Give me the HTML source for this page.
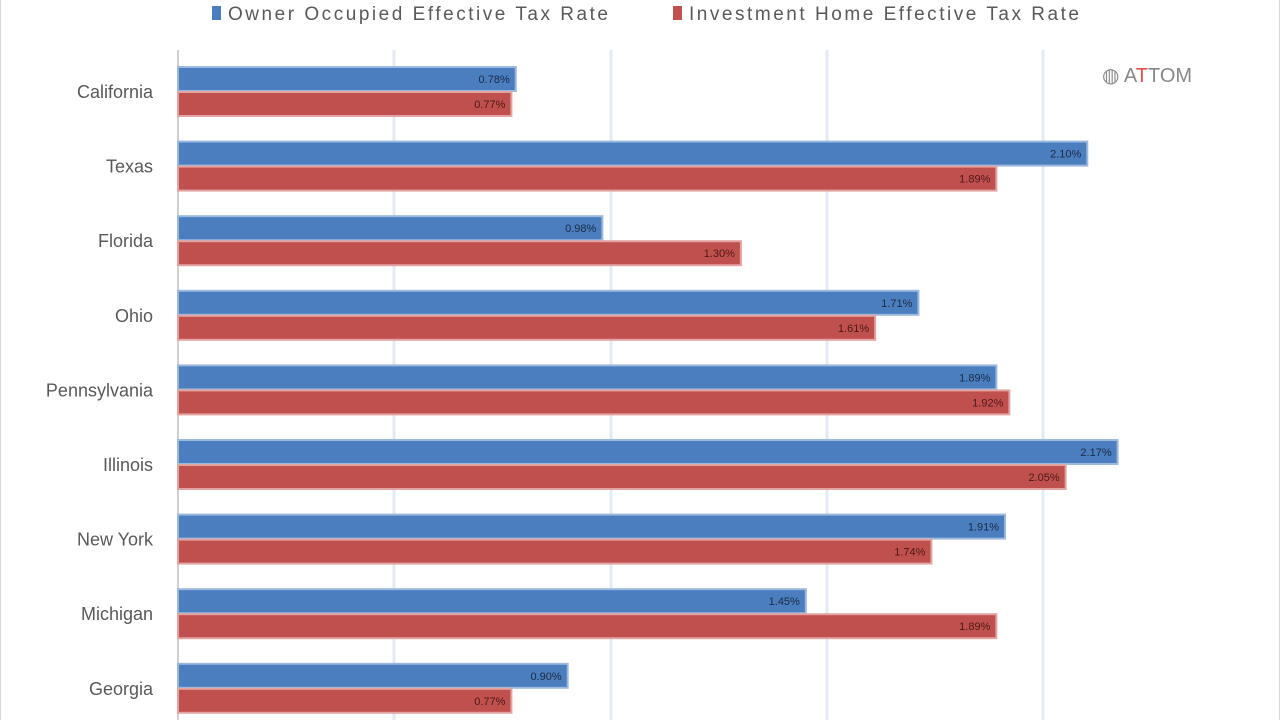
<!DOCTYPE html>
<html><head><style>
body{margin:0;width:1280px;height:720px;overflow:hidden;background:#fff;font-family:"Liberation Sans",sans-serif}
</style></head><body>
<svg width="1280" height="720" xmlns="http://www.w3.org/2000/svg" font-family="Liberation Sans, sans-serif">
<rect x="0.5" y="-5" width="1279" height="730" fill="#fff" stroke="#d9d9d9"/>
<g stroke="#e3e9f5" stroke-width="3">
<line x1="394" y1="50" x2="394" y2="720"/><line x1="611" y1="50" x2="611" y2="720"/>
<line x1="827" y1="50" x2="827" y2="720"/><line x1="1043" y1="50" x2="1043" y2="720"/>
</g>
<line x1="178" y1="50" x2="178" y2="720" stroke="#d0d0d0" stroke-width="2"/>
<rect x="212" y="6" width="9" height="14" fill="#4a7ebf"/>
<text x="228" y="20" font-size="19" fill="#595959" textLength="380">Owner Occupied Effective Tax Rate</text>
<rect x="673" y="6" width="9" height="14" fill="#c0504d"/>
<text x="689" y="20" font-size="19" fill="#595959" textLength="390">Investment Home Effective Tax Rate</text>
<text x="1102" y="82" font-size="20" fill="#888">◍ A<tspan fill="#e05050">T</tspan>TOM</text>
<g id="bars" font-size="11" fill="#1f2d3d"></g>
</svg>
<script>
const d=[["California",0.78,0.77],["Texas",2.10,1.89],["Florida",0.98,1.30],["Ohio",1.71,1.61],["Pennsylvania",1.89,1.92],["Illinois",2.17,2.05],["New York",1.91,1.74],["Michigan",1.45,1.89],["Georgia",0.90,0.77]];
const g=document.getElementById('bars');let h='';
d.forEach((r,i)=>{const y=67+74.6*i;const wb=r[1]*433,wr=r[2]*433;
h+=`<rect x="178" y="${y}" width="${wb}" height="24" fill="#4a7ebf" stroke="#9bb8df" stroke-width="2"/>`;
h+=`<rect x="178" y="${y+25}" width="${wr}" height="24" fill="#c0504d" stroke="#e3a3a1" stroke-width="2"/>`;
h+=`<text x="${178+wb-6}" y="${y+16}" text-anchor="end" fill="#1b2a44">${r[1].toFixed(2)}%</text>`;
h+=`<text x="${178+wr-6}" y="${y+41}" text-anchor="end" fill="#4a1a18">${r[2].toFixed(2)}%</text>`;
h+=`<text x="153" y="${y+31}" text-anchor="end" font-size="18" fill="#595959">${r[0]}</text>`;});
g.innerHTML=h;
</script>
</body></html>
